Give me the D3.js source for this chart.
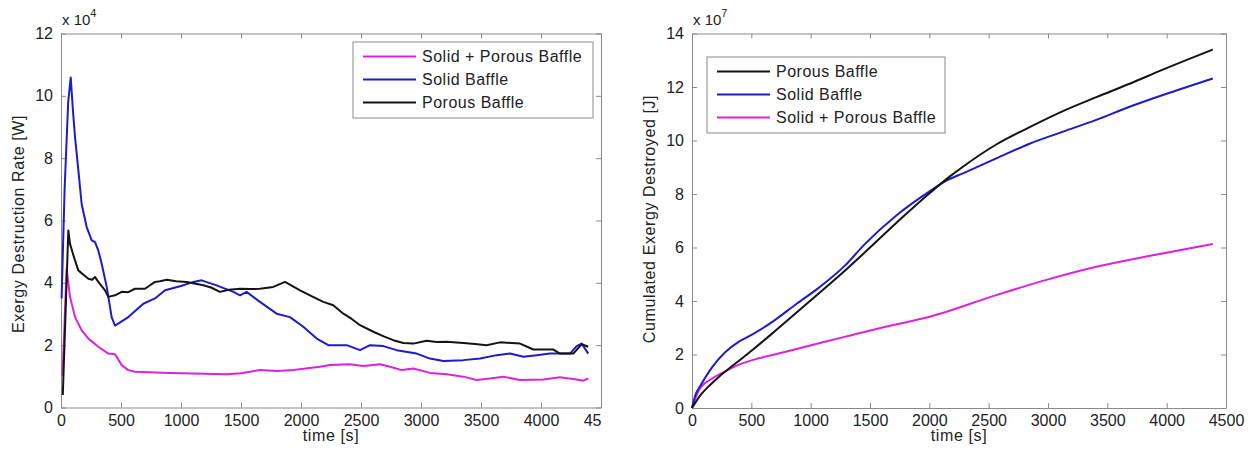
<!DOCTYPE html>
<html>
<head>
<meta charset="utf-8">
<script src="https://cdn.jsdelivr.net/npm/d3@7"></script>
<style>
  body { margin: 0; background: #fff; }
  svg text { font-family: "Liberation Sans", Arial, sans-serif; fill: #222; }
  .axis path, .axis line { stroke: #8a8a8a; }
  .axis text { font-size: 16px; fill: #222; }
  .lbl { font-size: 16px; letter-spacing: 0.6px; }
  .leg { font-size: 16px; letter-spacing: 0.5px; }
</style>
</head>
<body>
<svg width="1256" height="458"></svg>
<script>
// exergy destruction rate, x 1e4 W  ([time s, value])
var rateSolidPorous = [[12,1.0],[47,4.45],[75,3.55],[117,2.9],[172,2.48],[228,2.21],[311,1.95],[394,1.73],[450,1.71],[506,1.36],[561,1.2],[617,1.15],[908,1.11],[1381,1.07],[1500,1.1],[1658,1.2],[1800,1.17],[1936,1.2],[2158,1.31],[2242,1.36],[2408,1.39],[2519,1.33],[2658,1.39],[2750,1.3],[2839,1.2],[2936,1.25],[3075,1.11],[3214,1.07],[3353,0.99],[3464,0.88],[3575,0.93],[3686,0.99],[3825,0.88],[4019,0.9],[4158,0.97],[4297,0.9],[4353,0.86],[4394,0.93]];
var rateSolid = [[5,3.5],[30,7],[60,9.8],[81,10.59],[100,9.5],[117,8.67],[145,7.6],[172,6.53],[214,5.79],[256,5.36],[283,5.31],[311,5.04],[339,4.61],[381,3.87],[422,2.9],[450,2.63],[561,2.9],[686,3.33],[783,3.5],[867,3.76],[1000,3.9],[1103,4.03],[1172,4.08],[1297,3.92],[1436,3.71],[1492,3.6],[1547,3.71],[1658,3.39],[1797,3.01],[1908,2.9],[2019,2.59],[2131,2.21],[2228,2.0],[2381,2.0],[2492,1.84],[2575,2.0],[2686,1.97],[2797,1.84],[2964,1.73],[3075,1.57],[3186,1.49],[3353,1.52],[3492,1.57],[3631,1.68],[3742,1.73],[3853,1.63],[3964,1.68],[4075,1.73],[4242,1.73],[4297,1.97],[4339,2.05],[4394,1.73]];
var ratePorous = [[15,0.4],[61,5.68],[75,5.25],[110,4.8],[144,4.4],[190,4.25],[228,4.13],[260,4.1],[283,4.19],[311,4.03],[367,3.76],[394,3.55],[450,3.6],[506,3.71],[560,3.7],[617,3.81],[700,3.81],[783,4.03],[825,4.05],[881,4.1],[960,4.05],[1047,4.03],[1186,3.92],[1250,3.85],[1325,3.71],[1400,3.78],[1492,3.81],[1580,3.8],[1658,3.81],[1769,3.87],[1867,4.03],[1992,3.76],[2100,3.55],[2186,3.39],[2269,3.28],[2353,3.01],[2420,2.85],[2492,2.64],[2603,2.43],[2690,2.28],[2769,2.16],[2853,2.07],[2936,2.05],[3047,2.14],[3130,2.1],[3214,2.11],[3353,2.07],[3450,2.04],[3547,2.0],[3658,2.09],[3825,2.05],[3936,1.86],[4103,1.86],[4158,1.73],[4269,1.73],[4339,2.03],[4394,1.95]];

// cumulated exergy destroyed, x 1e7 J
var cumPorous = [[0,0],[73,0.49],[150,0.85],[228,1.17],[368,1.67],[509,2.17],[677,2.79],[874,3.54],[1070,4.29],[1295,5.16],[1500,6.0],[1778,7.15],[2002,8.03],[2171,8.65],[2283,9.02],[2564,9.85],[2845,10.5],[3126,11.1],[3407,11.62],[3687,12.12],[3968,12.65],[4389,13.4]];
var cumSolid = [[0,0],[30,0.5],[73,0.85],[172,1.54],[284,2.1],[396,2.48],[509,2.75],[677,3.22],[874,3.87],[1070,4.5],[1295,5.35],[1450,6.1],[1722,7.2],[2002,8.1],[2143,8.5],[2283,8.77],[2564,9.33],[2845,9.88],[3126,10.33],[3407,10.77],[3687,11.26],[3968,11.7],[4389,12.32]];
var cumSolidPorous = [[0,0],[59,0.67],[172,1.11],[284,1.38],[396,1.62],[565,1.86],[790,2.1],[1070,2.42],[1351,2.73],[1632,3.04],[2002,3.41],[2564,4.22],[2986,4.79],[3407,5.28],[3828,5.66],[4389,6.13]];

var xTicks = [0,500,1000,1500,2000,2500,3000,3500,4000,4500];
var rateTicks = [0,2,4,6,8,10,12];
var cumTicks = [0,2,4,6,8,10,12,14];

var MAG = "#dd22dd", BLUE = "#1c1cc8", BLACK = "#141414";

var svg = d3.select("svg");

function panel(opt) {
    var g = svg.append("g");
    if (opt.clip) {
        svg.append("clipPath").attr("id", opt.clip.id)
            .append("rect").attr("x", opt.clip.x).attr("y", 0)
            .attr("width", opt.clip.w).attr("height", 458);
        g.attr("clip-path", "url(#" + opt.clip.id + ")");
    }
    var x = d3.scaleLinear().domain([0, 4500]).range([opt.left, opt.right]);
    var y = d3.scaleLinear().domain([0, opt.yMax]).range([opt.bottom, opt.top]);

    g.append("g").attr("class", "axis")
        .attr("transform", "translate(0," + opt.bottom + ")")
        .call(d3.axisBottom(x).tickValues(xTicks).tickSize(-5).tickSizeOuter(0).tickPadding(7).tickFormat(d3.format("d")));
    g.append("g").attr("class", "axis")
        .attr("transform", "translate(0," + opt.top + ")")
        .call(d3.axisTop(x).tickValues(xTicks).tickSize(-5).tickSizeOuter(0).tickFormat(""));
    g.append("g").attr("class", "axis")
        .attr("transform", "translate(" + opt.left + ",0)")
        .call(d3.axisLeft(y).tickValues(opt.yTicks).tickSize(-5).tickSizeOuter(0).tickPadding(8));
    g.append("g").attr("class", "axis")
        .attr("transform", "translate(" + opt.right + ",0)")
        .call(d3.axisRight(y).tickValues(opt.yTicks).tickSize(-5).tickSizeOuter(0).tickFormat(""));

    var line = d3.line().curve(opt.curve)
        .x(function (d) { return x(d[0]); }).y(function (d) { return y(d[1]); });
    opt.series.forEach(function (s) {
        g.append("path").datum(s.data)
            .attr("d", line).attr("fill", "none")
            .attr("stroke", s.color).attr("stroke-width", 2)
            .attr("stroke-linejoin", "round");
    });

    // exponent note
    var ex = g.append("text").attr("x", opt.left + 1).attr("y", 25).attr("font-size", 15);
    ex.append("tspan").text("x 10");
    ex.append("tspan").attr("font-size", 11).attr("dy", -8).text(opt.exp);

    g.append("text").attr("class", "lbl")
        .attr("x", (opt.left + opt.right) / 2).attr("y", 441)
        .attr("text-anchor", "middle").text("time [s]");
    g.append("text").attr("class", "lbl")
        .attr("transform", "translate(" + (opt.left - 37) + "," + opt.yLabelY + ") rotate(-90)")
        .attr("text-anchor", "middle").text(opt.yLabel);

    // legend
    var L = opt.legend;
    var leg = g.append("g").attr("transform", "translate(" + L.x + "," + L.y + ")");
    leg.append("rect").attr("width", L.w).attr("height", L.h)
        .attr("fill", "#fff").attr("stroke", "#8a8a8a");
    L.items.forEach(function (it, i) {
        var yy = 14.5 + i * 23;
        leg.append("line").attr("x1", 10).attr("x2", 63).attr("y1", yy).attr("y2", yy)
            .attr("stroke", it.color).attr("stroke-width", 2);
        leg.append("text").attr("class", "leg").attr("x", 69).attr("y", yy + 5.5).text(it.name);
    });
}

panel({
    left: 61, right: 601, top: 33.5, bottom: 407.5, yMax: 12, yTicks: rateTicks,
    exp: "4", yLabel: "Exergy Destruction Rate [W]", yLabelY: 224,
    clip: { id: "cl", x: 0, w: 602 },
    curve: d3.curveLinear,
    series: [
        { data: rateSolidPorous, color: MAG },
        { data: rateSolid, color: BLUE },
        { data: ratePorous, color: BLACK }
    ],
    legend: { x: 353, y: 42, w: 240, h: 76, items: [
        { name: "Solid + Porous Baffle", color: MAG },
        { name: "Solid Baffle", color: BLUE },
        { name: "Porous Baffle", color: BLACK }
    ] }
});

panel({
    left: 692, right: 1226, top: 33.5, bottom: 408, yMax: 14, yTicks: cumTicks,
    exp: "7", yLabel: "Cumulated Exergy Destroyed [J]", yLabelY: 219,
    curve: d3.curveMonotoneX,
    series: [
        { data: cumSolidPorous, color: MAG },
        { data: cumSolid, color: BLUE },
        { data: cumPorous, color: BLACK }
    ],
    legend: { x: 707, y: 57, w: 238, h: 76, items: [
        { name: "Porous Baffle", color: BLACK },
        { name: "Solid Baffle", color: BLUE },
        { name: "Solid + Porous Baffle", color: MAG }
    ] }
});
</script>
</body>
</html>
